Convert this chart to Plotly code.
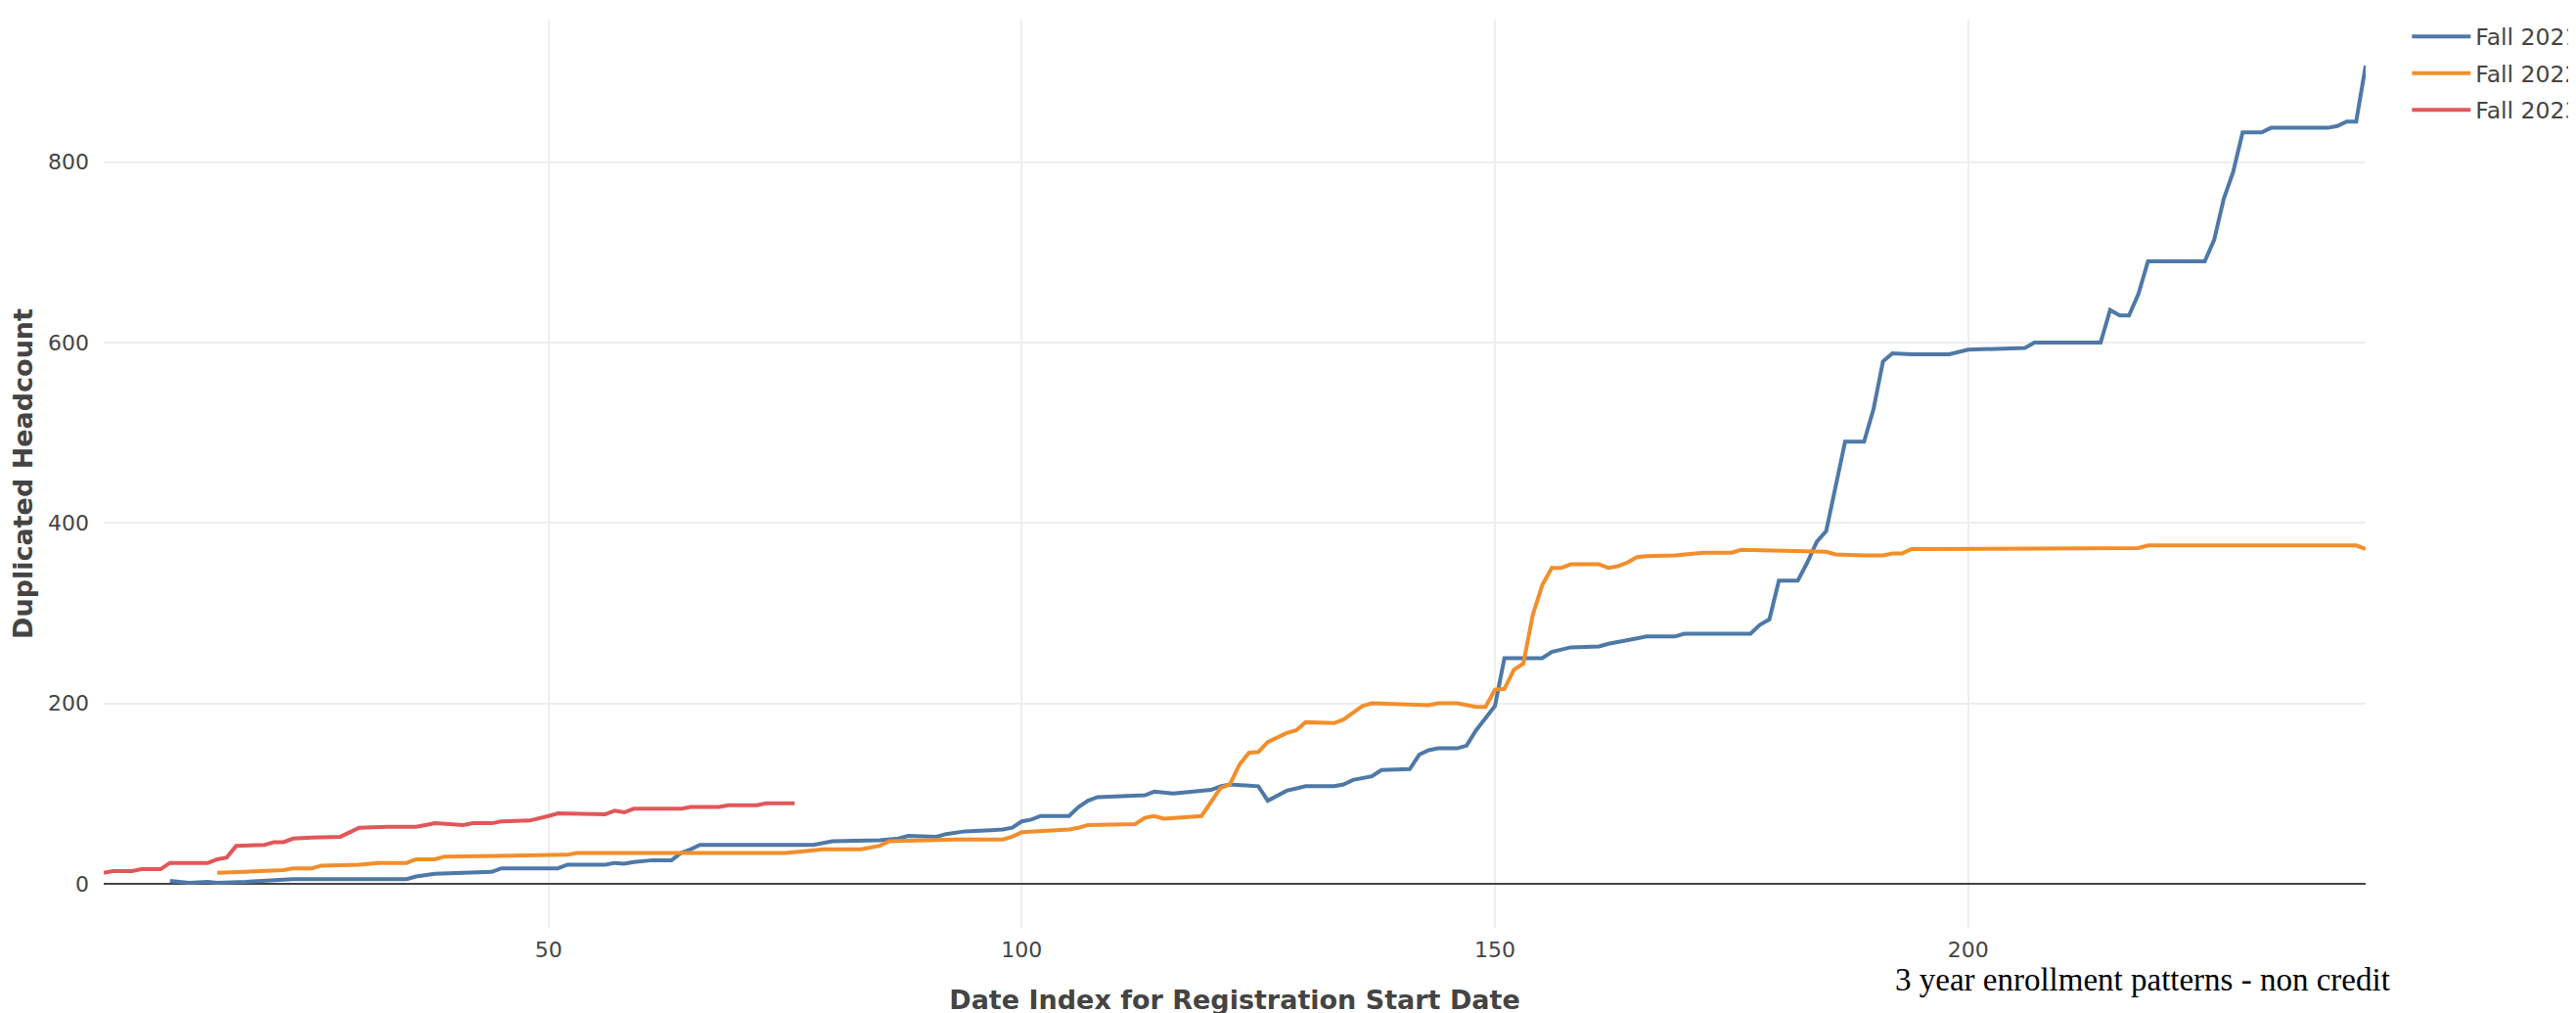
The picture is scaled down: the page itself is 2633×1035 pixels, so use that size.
import plotly.graph_objects as go

# Fall 2021 (blue)
x_2021 = [10, 12, 14, 15, 18, 20, 23, 35, 36, 38, 40, 44, 45, 51, 52, 56, 57, 58, 59, 60,
          61, 63, 64, 65, 66, 78, 80, 85, 87, 88, 91, 92, 94, 98, 99, 100, 101, 102, 105, 106,
          107, 108, 113, 114, 116, 120, 121, 122, 124, 125, 126, 128, 130, 133, 134, 135, 137, 138, 141, 142,
          143, 144, 146, 147, 148, 150, 151, 155, 156, 157, 158, 161, 162, 165, 166, 169, 170, 177, 178, 179,
          180, 182, 183, 184, 185, 187, 189, 190, 191, 192, 194, 198, 200, 206, 207, 214, 215, 216, 217, 218,
          219, 225, 226, 227, 228, 229, 231, 232, 238, 239, 240, 241, 242]
y_2021 = [3, 1, 2, 1, 2, 3, 5, 5, 8, 11, 12, 13, 17, 17, 21, 21, 23, 22, 24, 25,
          26, 26, 34, 38, 43, 43, 47, 48, 50, 53, 52, 55, 58, 60, 62, 69, 71, 75, 75, 85,
          92, 96, 98, 102, 100, 104, 108, 110, 109, 108, 92, 103, 108, 108, 110, 115, 119, 126, 127, 143,
          148, 150, 150, 153, 170, 197, 250, 250, 257, 259, 262, 263, 266, 272, 274, 274, 277, 277, 287, 293,
          336, 336, 356, 379, 391, 490, 490, 526, 579, 588, 587, 587, 592, 594, 600, 600, 636, 630, 630, 654,
          690, 690, 714, 759, 789, 833, 833, 838, 838, 840, 845, 845, 907]

# Fall 2022 (orange)
x_2022 = [15, 18, 22, 23, 25, 26, 30, 32, 35, 36, 38, 39, 49, 50, 52, 53, 75, 77, 79, 83,
          84, 85, 86, 89, 92, 93, 98, 99, 100, 102, 105, 106, 107, 112, 113, 114, 115, 119, 121, 122,
          123, 124, 125, 126, 128, 129, 130, 133, 134, 136, 137, 143, 144, 146, 148, 149, 150, 151, 152, 153,
          154, 155, 156, 157, 158, 161, 162, 163, 164, 165, 166, 169, 170, 171, 172, 175, 176, 185, 186, 189,
          191, 192, 193, 194, 218, 219, 241, 242]
y_2022 = [12, 13, 15, 17, 17, 20, 21, 23, 23, 27, 27, 30, 31, 32, 32, 34, 34, 36, 38, 38,
          40, 42, 47, 48, 48, 49, 49, 52, 57, 58, 60, 62, 65, 66, 73, 75, 72, 75, 106, 110,
          132, 145, 146, 157, 167, 170, 179, 178, 182, 197, 200, 198, 200, 200, 196, 196, 215, 216, 237, 244,
          298, 331, 350, 350, 354, 354, 350, 352, 356, 362, 363, 364, 365, 365, 367, 367, 370, 368, 365, 364,
          364, 366, 366, 371, 372, 375, 375, 371]

# Fall 2023 (red)
x_2023 = [3, 4, 6, 7, 9, 10, 14, 15, 16, 17, 20, 21, 22, 23, 25, 28, 29, 30, 33, 36,
          37, 38, 41, 42, 44, 45, 48, 49, 50, 51, 55, 56, 57, 58, 59, 64, 65, 68, 69, 72,
          73, 76]
y_2023 = [12, 14, 14, 16, 16, 23, 23, 27, 29, 42, 43, 46, 46, 50, 51, 52, 57, 62, 63, 63,
          65, 67, 65, 67, 67, 69, 70, 72, 75, 78, 77, 77, 81, 79, 83, 83, 85, 85, 87, 87,
          89, 89]

series = [
    ("Fall 2021", x_2021, y_2021, "#4e79a7"),
    ("Fall 2022", x_2022, y_2022, "#f28e2b"),
    ("Fall 2023", x_2023, y_2023, "#e15759"),
]

fig = go.Figure()
for name, xs, ys, col in series:
    fig.add_trace(go.Scatter(x=xs, y=ys, mode="lines", name=name, legendgroup=name,
                             line=dict(color=col, width=4)))

fig.update_layout(
    width=2633, height=1035,
    margin=dict(l=98, r=223, t=12, b=95, autoexpand=False),
    paper_bgcolor="white", plot_bgcolor="white",
    font=dict(family="DejaVu Sans", color="#444", size=22),
    legend=dict(x=1.0183, y=1.005, xanchor="left", yanchor="top",
                font=dict(size=23.5, family="DejaVu Sans", color="#444"),
                itemwidth=60, traceorder="grouped", tracegroupgap=4),
    xaxis=dict(range=[3, 242], tick0=0, dtick=50, showgrid=True, gridcolor="#eee", gridwidth=2,
               zeroline=False, showline=False, ticks="", ticklabelstandoff=7,
               tickfont=dict(size=22, family="DejaVu Sans", color="#444"),
               title=dict(text="<b>Date Index for Registration Start Date</b>",
                          font=dict(size=27, family="DejaVu Sans", color="#444"), standoff=30),
               automargin=False),
    yaxis=dict(range=[-49, 958], tick0=0, dtick=200, showgrid=True, gridcolor="#eee", gridwidth=2,
               zeroline=True, zerolinecolor="#444", zerolinewidth=2, showline=False, ticks="",
               ticklabelstandoff=14,
               tickfont=dict(size=22, family="DejaVu Sans", color="#444"),
               title=dict(text="<b>Duplicated Headcount</b>",
                          font=dict(size=27, family="DejaVu Sans", color="#444"), standoff=14),
               automargin=False),
    annotations=[dict(text="3 year enrollment patterns - non credit", xref="paper", yref="paper",
                      x=1.0117, y=-0.079, xanchor="right", yanchor="bottom", showarrow=False,
                      font=dict(family="Liberation Serif", size=33, color="black"))],
)

fig.write_html("out.html")
